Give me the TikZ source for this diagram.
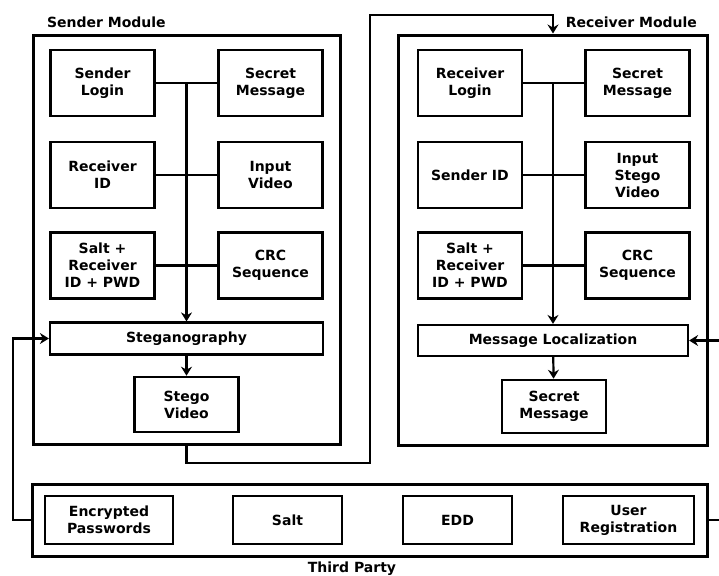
\documentclass[tikz,border=0pt]{standalone}
\usepackage{fontspec}
\setmainfont{DejaVu Sans}
\usetikzlibrary{arrows.meta,calc,positioning}

\begin{document}
\begin{tikzpicture}[
  x=0.5pt,
  y=-0.5pt,
  >={Stealth[length=4.5pt,width=5.5pt,inset=1.5pt]},
  every node/.style={font=\bfseries\fontsize{7}{8.5}\selectfont},
  frame/.style={draw,line width=1.5pt,inner sep=0pt},
  blk/.style={draw,line width=1.3pt,align=center,inner sep=0pt,
              minimum width=52pt,minimum height=33pt},
  bar/.style={draw,line width=1.1pt,align=center,inner sep=0pt,minimum height=16pt},
  link/.style={line width=1.1pt}]

\useasboundingbox (0,0) rectangle (719,575);

% --- Module frames ---
\node[frame,minimum width=153.5pt,minimum height=204.5pt] (sFrame) at (186.5,239.5) {};
\node[frame,minimum width=154.5pt,minimum height=205pt] (rFrame) at (553,240) {};
\node[frame,minimum width=337.5pt,minimum height=36pt] (tFrame) at (369.5,520) {};

\node[anchor=base west] (sTitle) at (40,27) {Sender Module};
\node[anchor=base east] (rTitle) at (704,27) {Receiver Module};
\node[anchor=base] (tTitle) at (352,572) {Third Party};

% --- Sender module ---
\node[blk] (sLogin)  at (102.5,83)    {Sender\\Login};
\node[blk] (sSecret) at (270.5,83)    {Secret\\Message};
\node[blk] (sRecID)  at (102.5,175)   {Receiver\\ID};
\node[blk] (sVideo)  at (270.5,175)   {Input\\Video};
\node[blk] (sSalt)   at (102.5,265.5) {Salt +\\Receiver\\ID + PWD};
\node[blk] (sCRC)    at (270.5,265.5) {CRC\\Sequence};
\node[bar,minimum width=136.5pt] (steg) at (186.5,338.5) {Steganography};
\node[blk,minimum height=27.5pt] (sStego) at (186.5,404.5) {Stego\\Video};

\draw[link] (sLogin) -- (sSecret);
\draw[link] (sRecID) -- (sVideo);
\draw[link] (sSalt) -- (sCRC);
\draw[link,->] (sLogin.east -| steg.north) -- (steg.north);
\draw[link,->] (steg) -- (sStego);

% --- Receiver module ---
\node[blk] (rLogin)  at (470,83)      {Receiver\\Login};
\node[blk] (rSecret) at (637.5,83)    {Secret\\Message};
\node[blk] (rSendID) at (470,175)     {Sender ID};
\node[blk] (rVideo)  at (637.5,175)   {Input\\Stego\\Video};
\node[blk] (rSalt)   at (470,265.5)   {Salt +\\Receiver\\ID + PWD};
\node[blk] (rCRC)    at (637.5,265.5) {CRC\\Sequence};
\node[bar,minimum width=135pt,minimum height=15.5pt] (loc) at (553,340.5) {Message Localization};
\node[blk,minimum height=26.5pt] (rMsg) at (554,406.5) {Secret\\Message};

\draw[link] (rLogin) -- (rSecret);
\draw[link] (rSendID) -- (rVideo);
\draw[link] (rSalt) -- (rCRC);
\draw[link,->] (rLogin.east -| loc.north) -- (loc.north);
\draw[link,->] (loc) -- (rMsg);

% --- Third party ---
\foreach \n/\x/\w/\t in {enc/109/64pt/{Encrypted\\Passwords},
                         salt/287.5/54.5pt/{Salt},
                         edd/457.5/54.5pt/{EDD},
                         reg/628.5/65.5pt/{User\\Registration}}
  \node[blk,minimum width=\w,minimum height=24pt] (\n) at (\x,520) {\t};

% --- Links between modules ---
\coordinate (bendA) at (370,463);
\coordinate (bendB) at (370,15);
\coordinate (leftX) at (13,0);
\coordinate (rightX) at (726,0);

\draw[link,->] (sFrame.south) |- (bendA) -- (bendB) -| (rFrame.north);
\draw[link,->] (tFrame.west) -- (tFrame.west -| leftX) |- (steg.west);
\draw[link,->] (tFrame.east) -- (tFrame.east -| rightX) |- (loc.east);

\end{tikzpicture}
\end{document}
